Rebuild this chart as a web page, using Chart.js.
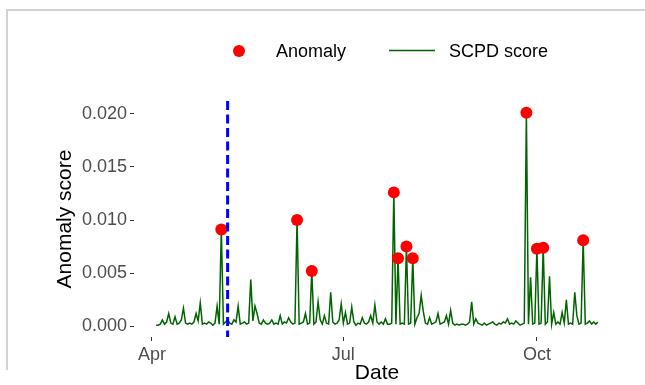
<!DOCTYPE html>
<html>
<head>
<meta charset="utf-8">
<script src="https://cdn.jsdelivr.net/npm/chart.js@4"></script>
<style>
html, body { margin: 0; padding: 0; background: #fff; }
#wrap { position: relative; width: 645px; height: 385px; }
#frame { position: absolute; left: 6px; top: 9px; width: 639px; height: 361px;
         border-top: 2px solid #d2d2d2; border-left: 2px solid #d2d2d2; box-sizing: border-box; }
canvas { position: absolute; left: 0; top: 0; }
</style>
</head>
<body>
<div id="wrap">
  <div id="frame"></div>
  <canvas id="chart" width="645" height="385"></canvas>
</div>
<script>
// days counted from 1 April; first observation is 3 April
const startDay = 2;
const scores = [
  0.0001, 0.0001, 0.0002, 0.0006, 0.0002, 0.0004, 0.0012, 0.0003, 0.0002, 0.0009,
  0.0002, 0.0003, 0.0006, 0.0017, 0.0003, 0.0002, 0.0003, 0.0002, 0.0004, 0.0012,
  0.0005, 0.0022, 0.0002, 0.0003, 0.0002, 0.0004, 0.0003, 0.0001, 0.0003, 0.0019,
  0.0002, 0.0091, 0.0002, 0.0004, 0.0006, 0.0003, 0.0002, 0.0006, 0.0004, 0.0019,
  0.0002, 0.0003, 0.0004, 0.0002, 0.0003, 0.0044, 0.0005, 0.0019, 0.0012, 0.0003,
  0.0002, 0.0006, 0.0003, 0.0002, 0.0003, 0.0006, 0.0002, 0.0003, 0.0002, 0.0010,
  0.0002, 0.0004, 0.0003, 0.0008, 0.0004, 0.0002, 0.0003, 0.0100, 0.0002, 0.0003,
  0.0004, 0.0012, 0.0002, 0.0003, 0.0052, 0.0002, 0.0004, 0.0023, 0.0006, 0.0002,
  0.0010, 0.0003, 0.0002, 0.0032, 0.0004, 0.0002, 0.0003, 0.0006, 0.0021, 0.0003,
  0.0013, 0.0002, 0.0003, 0.0018, 0.0004, 0.0001, 0.0003, 0.0002, 0.0008, 0.0003,
  0.0002, 0.0004, 0.0010, 0.0003, 0.0020, 0.0004, 0.0002, 0.0004, 0.0002, 0.0007,
  0.0002, 0.0002, 0.0003, 0.0126, 0.0002, 0.0064, 0.0002, 0.0003, 0.0002, 0.0075,
  0.0002, 0.0003, 0.0064, 0.0002, 0.0008, 0.0012, 0.0029, 0.0014, 0.0003, 0.0002,
  0.0008, 0.0002, 0.0003, 0.0004, 0.0012, 0.0002, 0.0003, 0.0004, 0.0010, 0.0002,
  0.0015, 0.0003, 0.0001, 0.0002, 0.0001, 0.0002, 0.0002, 0.0001, 0.0002, 0.0004,
  0.0023, 0.0002, 0.0007, 0.0003, 0.0002, 0.0001, 0.0003, 0.0001, 0.0002, 0.0003,
  0.0004, 0.0002, 0.0001, 0.0003, 0.0002, 0.0004, 0.0003, 0.0007, 0.0002, 0.0003,
  0.0002, 0.0005, 0.0003, 0.0001, 0.0002, 0.0003, 0.0201, 0.0002, 0.0046, 0.0002,
  0.0003, 0.0073, 0.0002, 0.0003, 0.0074, 0.0002, 0.0004, 0.0047, 0.0002, 0.0013,
  0.0002, 0.0004, 0.0002, 0.0013, 0.0003, 0.0025, 0.0002, 0.0003, 0.0002, 0.0032,
  0.0010, 0.0002, 0.0003, 0.0081, 0.0002, 0.0003, 0.0005, 0.0002, 0.0004, 0.0002,
  0.0004
];
// positions (in scores) flagged as anomalies
const anomalyIdx = [31, 67, 74, 113, 115, 119, 122, 176, 181, 184, 203];
const changeDay = 36;          // dashed marker, 7 May
const tickDays = [0, 91, 183];
const tickLabels = ['Apr', 'Jul', 'Oct'];
const yTicks = [0, 0.005, 0.010, 0.015, 0.020];

const linePts = scores.map((v, i) => ({ x: startDay + i, y: v }));
const anomalyPts = anomalyIdx.map(i => ({ x: startDay + i, y: scores[i] }));

const FONT = '"Liberation Sans", Arial, sans-serif';
const GREEN = '#006400';

const extras = {
  id: 'extras',
  afterDatasetsDraw(chart) {
    const { ctx, chartArea: a, scales: { x } } = chart;
    const px = x.getPixelForValue(changeDay);
    ctx.save();
    ctx.strokeStyle = '#0000ff';
    ctx.lineWidth = 3;
    ctx.setLineDash([9, 4.5]);
    ctx.beginPath();
    ctx.moveTo(px, a.top);
    ctx.lineTo(px, a.bottom);
    ctx.stroke();
    ctx.restore();
  },
  afterDraw(chart) {
    const { ctx, chartArea: a } = chart;
    ctx.save();
    ctx.fillStyle = '#000';
    ctx.font = '21px ' + FONT;
    ctx.textAlign = 'center';
    ctx.textBaseline = 'middle';
    ctx.fillText('Date', (a.left + a.right) / 2, 373);
    ctx.save();
    ctx.translate(65, (a.top + a.bottom) / 2);
    ctx.rotate(-Math.PI / 2);
    ctx.fillText('Anomaly score', 0, 0);
    ctx.restore();

    // legend
    ctx.fillStyle = '#ff0000';
    ctx.beginPath();
    ctx.arc(239, 51, 6, 0, Math.PI * 2);
    ctx.fill();
    ctx.strokeStyle = GREEN;
    ctx.lineWidth = 1.5;
    ctx.beginPath();
    ctx.moveTo(389, 50.5);
    ctx.lineTo(435, 50.5);
    ctx.stroke();
    ctx.fillStyle = '#000';
    ctx.font = '18px ' + FONT;
    ctx.textAlign = 'left';
    ctx.fillText('Anomaly', 276, 52);
    ctx.fillText('SCPD score', 449, 52);
    ctx.restore();
  }
};

new Chart(document.getElementById('chart'), {
  type: 'line',
  data: {
    datasets: [
      {
        type: 'scatter',
        label: 'Anomaly',
        data: anomalyPts,
        backgroundColor: '#ff0000',
        borderWidth: 0,
        pointRadius: 6,
        order: 0
      },
      {
        label: 'SCPD score',
        data: linePts,
        borderColor: GREEN,
        borderWidth: 1.5,
        pointRadius: 0,
        tension: 0,
        fill: false,
        order: 1
      }
    ]
  },
  options: {
    responsive: false,
    animation: false,
    layout: { padding: { top: 101, right: 25, left: 0, bottom: 0 } },
    plugins: { legend: { display: false }, tooltip: { enabled: false } },
    scales: {
      x: {
        type: 'linear',
        min: -8.5,
        max: 222.5,
        afterFit(s) { s.height = 48; },
        afterBuildTicks(s) { s.ticks = tickDays.map(v => ({ value: v })); },
        ticks: {
          color: '#4d4d4d',
          font: { family: FONT, size: 18 },
          padding: 3,
          maxRotation: 0,
          autoSkip: false,
          callback: v => tickLabels[tickDays.indexOf(v)]
        },
        grid: { display: true, drawOnChartArea: false, drawTicks: true, tickLength: 4, color: '#333333' },
        border: { display: false }
      },
      y: {
        type: 'linear',
        min: -0.00101,
        max: 0.0212,
        afterFit(s) { s.width = 134; },
        afterBuildTicks(s) { s.ticks = yTicks.map(v => ({ value: v })); },
        ticks: {
          color: '#4d4d4d',
          font: { family: FONT, size: 18 },
          padding: 3,
          callback: v => v.toFixed(3)
        },
        grid: { display: true, drawOnChartArea: false, drawTicks: true, tickLength: 4, color: '#333333' },
        border: { display: false }
      }
    }
  },
  plugins: [extras]
});
</script>
</body>
</html>
